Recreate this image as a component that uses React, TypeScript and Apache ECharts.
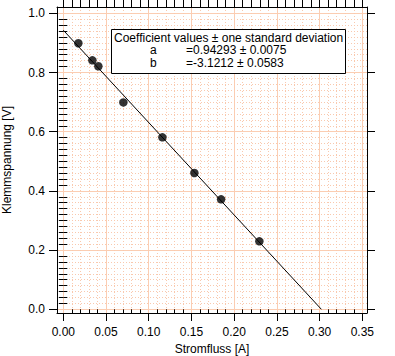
import React, { useEffect, useRef } from "react";
import * as echarts from "echarts";

// Data
const currentA = [0.0176, 0.034, 0.041, 0.0703, 0.116, 0.1534, 0.1847, 0.2295];
const voltageV = [0.899, 0.841, 0.821, 0.699, 0.581, 0.4605, 0.3716, 0.2297];
// Fit line endpoints (a = 0.94293, b = -3.1212)
const fitX = [0, 0.3021];
const fitY = [0.94293, 0];

const xMajorTicks = [0, 0.05, 0.1, 0.15, 0.2, 0.25, 0.3, 0.35];
const yMajorTicks = [0, 0.2, 0.4, 0.6, 0.8, 1.0];
const xSubdiv = 5;
const ySubdiv = 10;

const coefTitle = "Coefficient values \u00b1 one standard deviation";
const coefNames = ["a", "b"];
const coefValues = ["=0.94293 \u00b1 0.0075", "=-3.1212 \u00b1 0.0583"];

const X_MIN = -0.0074;
const X_MAX = 0.3555;
const Y_MIN = -0.0125;
const Y_MAX = 1.0213;

function minorOf(majors: number[], n: number): number[] {
  const out: number[] = [];
  for (let i = 0; i < majors.length - 1; i++) {
    const a = majors[i];
    const b = majors[i + 1];
    for (let k = 1; k < n; k++) out.push(Number((a + ((b - a) * k) / n).toFixed(5)));
  }
  return out;
}

const FONT = "'Liberation Sans', Arial, Helvetica, sans-serif";
const MAJOR_GRID = "#fbcdb2";
const MINOR_GRID = "#f9c9ae";

export default function App() {
  const ref = useRef<HTMLDivElement>(null);
  useEffect(() => {
    if (!ref.current) return;
    const chart = echarts.init(ref.current, undefined, { renderer: "svg" });
    const xMinor = minorOf(xMajorTicks, xSubdiv);
    const yMinor = minorOf(yMajorTicks, ySubdiv);
    const xAll = [...xMajorTicks, ...xMinor];
    const baseX = { type: "value", min: X_MIN, max: X_MAX, gridIndex: 0 };
    const baseY = { type: "value", min: Y_MIN, max: Y_MAX, gridIndex: 0 };
    const black = { color: "#000", width: 1 };
    const textStyle = (text: string) => ({
      text,
      font: `12px ${FONT}`,
      fill: "#000",
      verticalAlign: "top",
      lineHeight: 12.5,
    });
    const option: any = {
      animation: false,
      grid: {
        left: 57,
        top: 7,
        right: 28,
        bottom: 43,
        show: false,
        containLabel: false,
        outerBoundsMode: "none",
      },
      xAxis: [
        {
          ...baseX,
          position: "bottom",
          axisLine: { show: false },
          axisTick: { show: true, inside: false, length: 4, customValues: xMinor, lineStyle: black },
          axisLabel: { show: false },
          splitLine: { show: true, lineStyle: { color: MINOR_GRID, width: 1, type: [1, 2] } },
        },
        {
          ...baseX,
          position: "bottom",
          name: "Stromfluss [A]",
          nameLocation: "middle",
          nameGap: 27,
          nameTextStyle: { fontFamily: FONT, fontSize: 12, color: "#000" },
          axisLine: { show: true, onZero: false, lineStyle: black },
          axisTick: { show: true, inside: false, length: 8, customValues: xMajorTicks, lineStyle: black },
          axisLabel: {
            show: true,
            customValues: xMajorTicks,
            margin: 13,
            fontFamily: FONT,
            fontSize: 12,
            color: "#000",
            formatter: (v: number) => v.toFixed(2),
          },
          splitLine: { show: true, lineStyle: { color: MAJOR_GRID, width: 1 } },
        },
        {
          ...baseX,
          position: "top",
          axisLine: { show: true, onZero: false, lineStyle: black },
          axisTick: { show: true, inside: false, length: 7, customValues: xAll, lineStyle: black },
          axisLabel: { show: false },
          splitLine: { show: false },
        },
      ],
      yAxis: [
        {
          ...baseY,
          position: "left",
          axisLine: { show: false },
          axisTick: { show: true, inside: false, length: 4.5, customValues: yMinor, lineStyle: black },
          axisLabel: { show: false },
          splitLine: { show: true, lineStyle: { color: MINOR_GRID, width: 1, type: [1, 2] } },
        },
        {
          ...baseY,
          position: "left",
          name: "Klemmspannung [V]",
          nameLocation: "middle",
          nameGap: 44,
          nameTextStyle: { fontFamily: FONT, fontSize: 12, color: "#000" },
          axisLine: { show: true, onZero: false, lineStyle: black },
          axisTick: { show: true, inside: false, length: 8, customValues: yMajorTicks, lineStyle: black },
          axisLabel: {
            show: true,
            customValues: yMajorTicks,
            margin: 12,
            fontFamily: FONT,
            fontSize: 12,
            color: "#000",
            formatter: (v: number) => v.toFixed(1),
          },
          splitLine: { show: true, lineStyle: { color: MAJOR_GRID, width: 1 } },
        },
        {
          ...baseY,
          position: "right",
          axisLine: { show: false },
          axisTick: { show: true, inside: false, length: 4, customValues: yMinor, lineStyle: black },
          axisLabel: { show: false },
          splitLine: { show: false },
        },
        {
          ...baseY,
          position: "right",
          axisLine: { show: true, onZero: false, lineStyle: black },
          axisTick: { show: true, inside: false, length: 8, customValues: yMajorTicks, lineStyle: black },
          axisLabel: { show: false },
          splitLine: { show: false },
        },
      ],
      series: [
        {
          type: "line",
          xAxisIndex: 1,
          yAxisIndex: 1,
          data: fitX.map((x, i) => [x, fitY[i]]),
          showSymbol: false,
          symbol: "none",
          lineStyle: { color: "#000", width: 1 },
          z: 3,
        },
        {
          type: "scatter",
          xAxisIndex: 1,
          yAxisIndex: 1,
          data: currentA.map((x, i) => [x, voltageV[i]]),
          symbol: "circle",
          symbolSize: 8.5,
          itemStyle: { color: "#000" },
          z: 4,
        },
      ],
      graphic: [
        {
          type: "rect",
          z: 100,
          shape: { x: 111.5, y: 29.5, width: 234, height: 44 },
          style: { fill: "#fff", stroke: "#000", lineWidth: 1 },
        },
        {
          type: "text",
          z: 101,
          x: 114,
          y: 31.5,
          style: textStyle(coefTitle),
        },
        {
          type: "text",
          z: 101,
          x: 150,
          y: 44,
          style: textStyle(coefNames.join("\n")),
        },
        {
          type: "text",
          z: 101,
          x: 186,
          y: 44,
          style: textStyle(coefValues.join("\n")),
        },
      ],
    };
    chart.setOption(option);
    return () => chart.dispose();
  }, []);
  return (
    <div
      ref={ref}
      style={{ position: "absolute", left: 0, top: 0, width: 395, height: 356, background: "#fff" }}
    />
  );
}
